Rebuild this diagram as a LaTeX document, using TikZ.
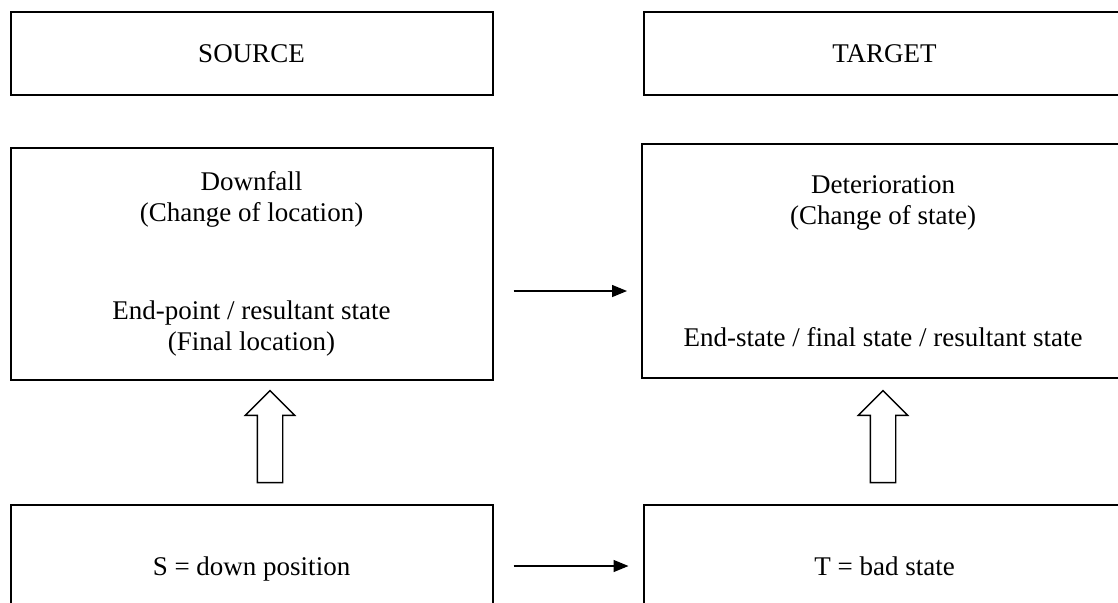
\documentclass[tikz,border=0pt]{standalone}
\usepackage{fontspec}
\setmainfont{Liberation Serif}
\usetikzlibrary{shapes,arrows.meta,positioning,calc}

\tikzset{
  box/.style={draw, rectangle, line width=1pt, minimum width=241pt, align=center},
  link/.style={-{Triangle[length=7.5pt,width=6pt]}, line width=0.7pt},
  upper/.style={draw, single arrow, shape border rotate=90, line width=0.7pt,
    inner xsep=6pt, inner ysep=0pt, minimum height=46pt, single arrow head extend=6pt}
}

\begin{document}
\begin{tikzpicture}[x=0.5pt, y=-0.5pt, font=\fontsize{13.5}{15.5}\selectfont]
\clip (0,0) rectangle (1118,602);

% SOURCE框
\node[box, minimum height=41.5pt] (source) at (251.5,53.5) {SOURCE};

% TARGET框
\node[box, minimum height=41.5pt, right=74.5pt of source] (target) {TARGET};

% Downfall框
\node[box, minimum height=116pt] (downfall) at (251.5,264) {
Downfall\\
(Change of location)\\[33.5pt]
End-point / resultant state\\
(Final location)
};

% Deterioration框
\node[box, minimum height=117pt] (deterioration) at (883,261) {
Deterioration\\
(Change of state)\\[45.5pt]
End-state / final state / resultant state
};

% 底部
\node[box, minimum height=61pt, text height=9.5pt, text depth=0.5pt] (down) at (251.5,566) {S = down position};
\node[box, minimum height=61pt, text height=9.5pt, text depth=0.5pt, right=74.5pt of down] (bad) {T = bad state};

% 空心箭头
\node[upper] (upleft) at (270,443) {};
\node[upper] (upright) at (883,443) {};

% 映射
\draw[link, shorten <=10pt, shorten >=7pt] ([yshift=-13.5pt]downfall.east) -- ([yshift=-13.5pt]downfall.east -| deterioration.west);
\draw[link, shorten <=10pt, shorten >=7pt] (down) -- (bad);
\end{tikzpicture}
\end{document}
